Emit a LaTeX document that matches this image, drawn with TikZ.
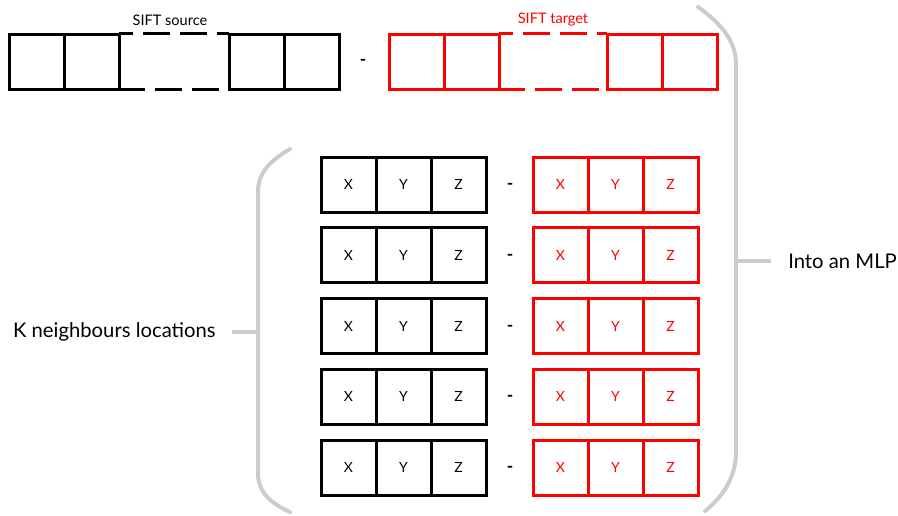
\documentclass[tikz,border=0pt]{standalone}
\usepackage{fontspec}
\setmainfont{Lato}
\begin{document}
\begin{tikzpicture}[x=0.75pt,y=-0.75pt,
  cellb/.style={draw=black,line width=2.25pt,inner sep=0pt,minimum width=41.25pt,minimum height=41.25pt,font=\fontsize{10.5}{12}\selectfont,text=black},
  cellr/.style={cellb,draw=red,text=red},
  gapb/.style={inner sep=0pt,minimum width=82.5pt,minimum height=41.25pt},
  gapr/.style={gapb,minimum width=81pt},
  dashb/.style={draw=black,line width=2.25pt,dash pattern=on 20pt off 7.5pt},
  dashr/.style={dashb,draw=red},
  brace/.style={draw=black!20,line width=3pt,line cap=round},
  minus/.style={font=\bfseries\fontsize{13}{14}\selectfont,inner sep=0pt,anchor=base},
  lbl/.style={font=\fontsize{15.2}{18}\selectfont,inner sep=0pt},
  small/.style={font=\fontsize{10.9}{12}\selectfont,inner sep=0pt}]
\useasboundingbox (0,0) rectangle (898,515);
% top row source
\node[cellb] (s1) at (36.5,61.5) {};
\node[cellb] (s2) at (91.5,61.5) {};
\node[gapb] (s3) at (174,61.5) {};
\node[cellb] (s4) at (256.5,61.5) {};
\node[cellb] (s5) at (311.5,61.5) {};
\draw[dashb,dash phase=9pt] (s3.north west) -- (s3.north east);
\draw[dashb] (s3.south west) -- (s3.south east);
\node[small] (srclbl) at (170,20) {SIFT source};
\node[minus] (m0) at (363,65.5) {-};
% top row target
\node[cellr] (t1) at (416.5,61.5) {};
\node[cellr] (t2) at (471.5,61.5) {};
\node[gapr] (t3) at (553,61.5) {};
\node[cellr] (t4) at (634.5,61.5) {};
\node[cellr] (t5) at (689.5,61.5) {};
\draw[dashr,dash phase=9pt] (t3.north west) -- (t3.north east);
\draw[dashr] (t3.south west) -- (t3.south east);
\node[small,text=red] (tgtlbl) at (553,20) {SIFT target};
% neighbour rows
\foreach \i/\y in {1/184.5,2/255.25,3/326,4/396.75,5/467.5}{
  \node[cellb] (bx\i) at (348.5,\y) {X};
  \node[cellb] (by\i) at (403.5,\y) {Y};
  \node[cellb] (bz\i) at (458.5,\y) {Z};
  \node[minus] (m\i) at (510,\y+5) {-};
  \node[cellr] (rx\i) at (560.5,\y) {X};
  \node[cellr] (ry\i) at (615.5,\y) {Y};
  \node[cellr] (rz\i) at (670.5,\y) {Z};
}
% right brace
\draw[brace] (698,7) .. controls (722,24) and (736,42) .. (736,64) -- (736,452) .. controls (736,476) and (724,496) .. (705,511);
\coordinate (rt) at (738,261);
\node[lbl,anchor=west] (mlp) at (788,261) {Into an MLP};
\draw[brace,line cap=butt] (rt) -- ([xshift=-13]mlp.west);
% left brace
\draw[brace] (290,149) .. controls (268,162) and (258,174) .. (258,192) -- (258,474) .. controls (258,490) and (268,502) .. (290,512);
\coordinate (lt) at (256,332);
\node[lbl,anchor=east] (knb) at (216,332) {K neighbours locations};
\draw[brace,line cap=butt] (lt) -- ([xshift=12]knb.east);
\end{tikzpicture}
\end{document}
